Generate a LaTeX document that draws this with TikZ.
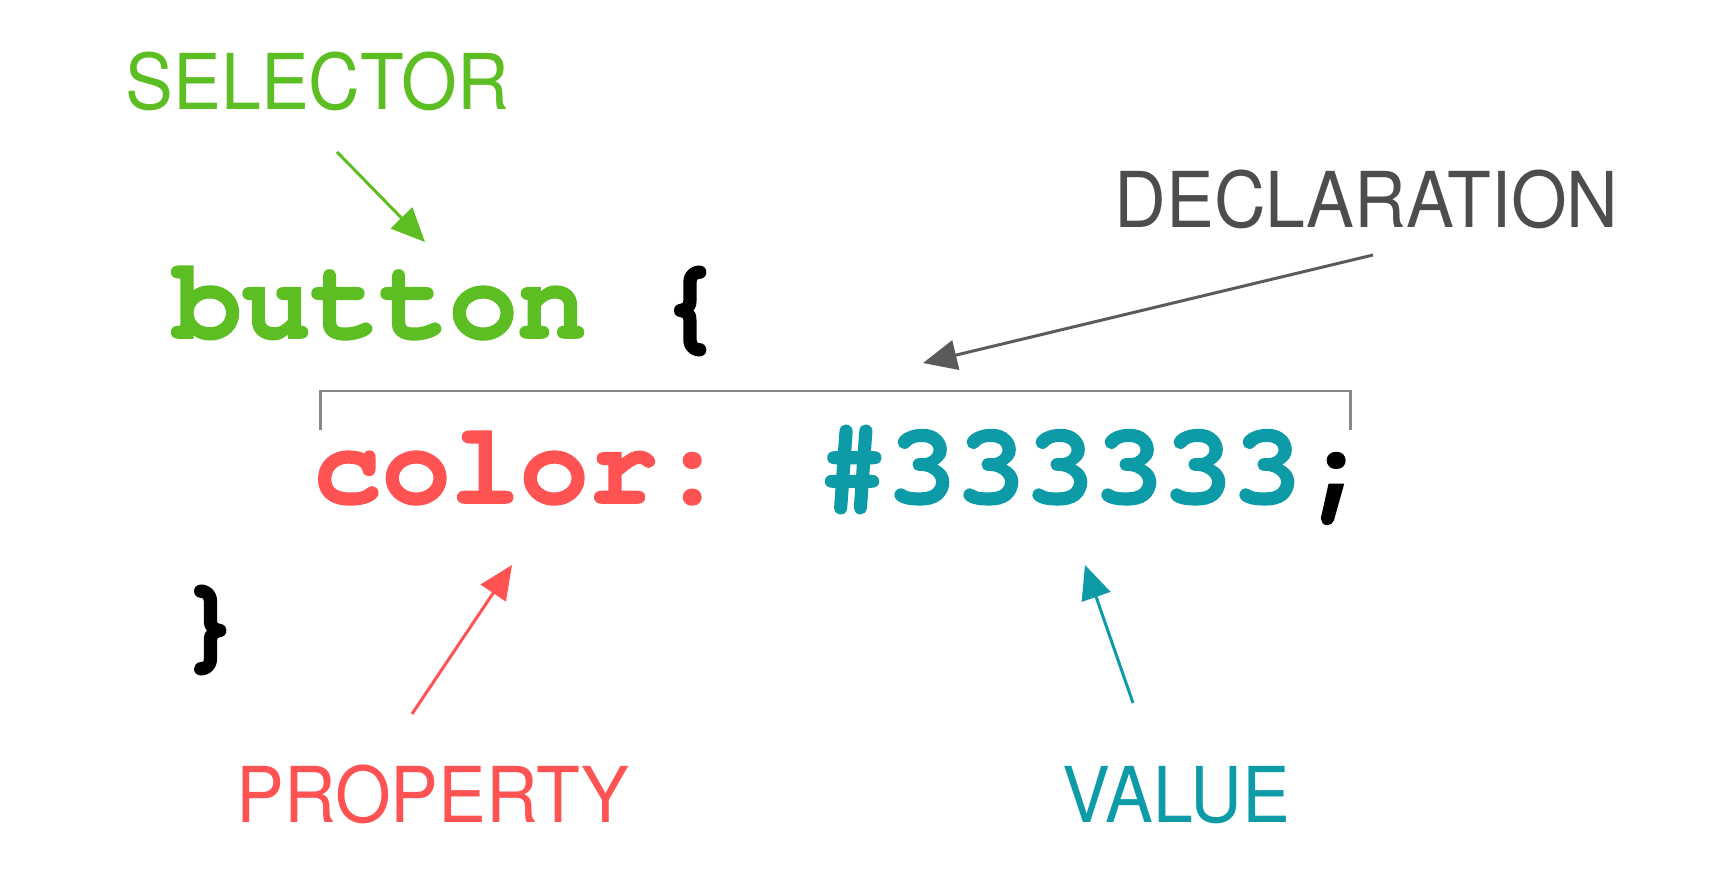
\documentclass[tikz,border=0pt]{standalone}
\usepackage{fontspec}
\setmainfont{TeX Gyre Heros}
\newfontfamily\lblfont[FakeStretch=0.93]{TeX Gyre Heros}
\newfontfamily\codefont{texgyrecursor}[Extension=.otf,UprightFont=*-regular,BoldFont=*-bold,BoldFeatures={FakeBold=1.5}]
\usetikzlibrary{arrows.meta}
\definecolor{selgreen}{RGB}{92,190,34}
\definecolor{propred}{RGB}{255,82,82}
\definecolor{valteal}{RGB}{14,155,168}
\definecolor{decgray}{RGB}{77,77,77}
\definecolor{arrgray}{RGB}{90,90,90}
\definecolor{brgray}{RGB}{135,135,135}
\begin{document}
\begin{tikzpicture}[x=0.01cm,y=-0.01cm,
  lbl/.style={inner sep=0pt,anchor=base west,font=\lblfont\fontsize{21.9pt}{24pt}\selectfont},
  code/.style={inner sep=0pt,anchor=base west,font=\codefont\bfseries\fontsize{32.7pt}{36pt}\selectfont},
  arr/.style={line width=0.85pt,-{Triangle[length=9.6pt,width=8.5pt]}}]
\useasboundingbox[fill=white] (0,0) rectangle (1734,876);

% labels
\node[lbl,text=selgreen] (selector) at (125,110) {SELECTOR};
\node[lbl,text=decgray] (declaration) at (1114,227) {DECLARATION};
\node[lbl,text=propred] (property) at (236,822) {PROPERTY};
\node[lbl,text=valteal] (value) at (1062,822) {VALUE};

% code
\node[code] (line1) at (172,338) {\textcolor{selgreen}{button} \{};
\node[code] (line2) at (312,503) {\textcolor{propred}{color:} \textcolor{valteal}{\#333333};};
\node[code] (line3) at (175,657) {\}};

% bracket over the declaration
\coordinate (brL) at (320,430);
\coordinate (brTL) at (320,391);
\coordinate (brTR) at (1350,391);
\coordinate (brR) at (1350,430);
\draw[brgray,line width=0.85pt] (brL) -- (brTL) -- (brTR) -- (brR);

% arrows
\coordinate (selS) at (337,152);
\coordinate (selT) at (425,242);
\draw[arr,selgreen] (selS) -- (selT);

\coordinate (decS) at (1373,255);
\coordinate (decT) at (923,363);
\draw[arr,arrgray] (decS) -- (decT);

\coordinate (propS) at (412,714);
\coordinate (propT) at (512,565);
\draw[arr,propred] (propS) -- (propT);

\coordinate (valS) at (1133,703);
\coordinate (valT) at (1085,565);
\draw[arr,valteal] (valS) -- (valT);
\end{tikzpicture}
\end{document}
